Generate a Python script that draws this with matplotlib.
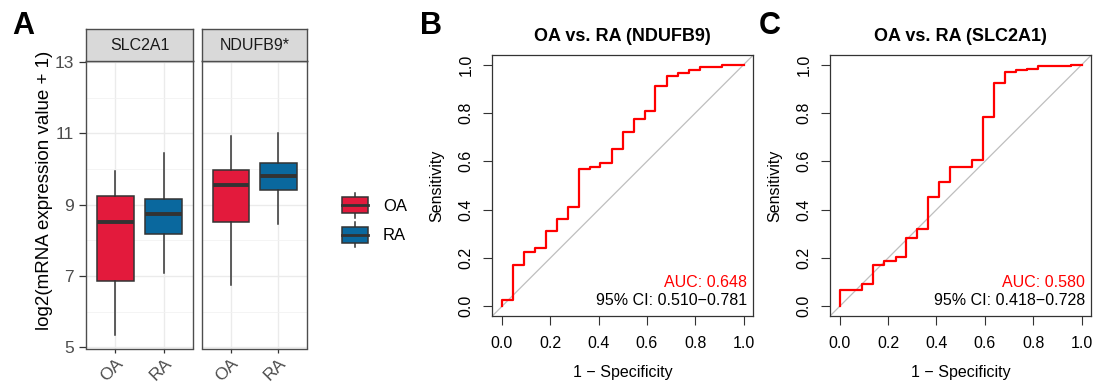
"""Boxplot facets (A) + two ROC curves (B, C)."""

import matplotlib

matplotlib.use("Agg")
import matplotlib.pyplot as plt
from matplotlib.legend_handler import HandlerBase
from matplotlib.lines import Line2D
from matplotlib.patches import Patch, Rectangle

plt.rcParams["font.family"] = ["Liberation Sans", "DejaVu Sans"]

W, H = 1095, 387

# ---- data -------------------------------------------------------------
genes = ["SLC2A1", "NDUFB9*"]
groups = ["OA", "RA"]
group_colors = ["#E31A3C", "#0A689E"]

# whisker low, Q1, median, Q3, whisker high
box_slc2a1 = [[5.34, 6.86, 8.51, 9.24, 9.94], [7.08, 8.17, 8.73, 9.15, 10.44]]
box_ndufb9 = [[6.74, 8.51, 9.54, 9.97, 10.92], [8.45, 9.40, 9.80, 10.16, 11.00]]
box_stats = [box_slc2a1, box_ndufb9]
y_ticks = [5, 7, 9, 11, 13]

# ROC: 1 - specificity at each riser, sensitivity after it
fpr_ndufb9 = [0.0, 0.0, 0.045, 0.091, 0.138, 0.182, 0.228, 0.273, 0.317, 0.366, 0.407,
              0.455, 0.5, 0.545, 0.59, 0.635, 0.682, 0.727, 0.772, 0.818, 0.912, 1.0]
tpr_ndufb9 = [0.0, 0.028, 0.172, 0.223, 0.243, 0.31, 0.362, 0.41, 0.568, 0.578, 0.594,
              0.651, 0.722, 0.777, 0.809, 0.913, 0.952, 0.965, 0.98, 0.99, 1.0, 1.0]
fpr_slc2a1 = [0.0, 0.0, 0.092, 0.138, 0.184, 0.231, 0.276, 0.32, 0.366, 0.411, 0.455,
              0.545, 0.593, 0.637, 0.683, 0.728, 0.772, 0.82, 0.955, 1.0]
tpr_slc2a1 = [0.0, 0.066, 0.092, 0.172, 0.189, 0.204, 0.282, 0.322, 0.454, 0.513, 0.578,
              0.605, 0.784, 0.925, 0.97, 0.98, 0.984, 0.993, 1.0, 1.0]
roc_titles = ["OA vs. RA (NDUFB9)", "OA vs. RA (SLC2A1)"]
auc_text = ["AUC: 0.648", "AUC: 0.580"]
ci_text = ["95% CI: 0.510\u22120.781", "95% CI: 0.418\u22120.728"]
roc_ticks = [0.0, 0.2, 0.4, 0.6, 0.8, 1.0]


def px_rect(left, top, right, bottom):
    return [left / W, 1 - bottom / H, (right - left) / W, (bottom - top) / H]


fig = plt.figure(figsize=(W / 100, H / 100), dpi=100)

# ---- panel A: faceted boxplots -----------------------------------------
facet_x = [(86, 193), (202, 307)]
for i, (l, r) in enumerate(facet_x):
    ax = fig.add_axes(px_rect(l, 61, r, 348.5))
    stats = []
    for g, s in zip(groups, box_stats[i]):
        stats.append(dict(label=g, whislo=s[0], q1=s[1], med=s[2], q3=s[3], whishi=s[4], fliers=[]))
    bp = ax.bxp(stats, positions=[1, 2], widths=0.76, patch_artist=True, showcaps=False,
                boxprops=dict(edgecolor="#333333", linewidth=1.1),
                whiskerprops=dict(color="#333333", linewidth=1.1),
                medianprops=dict(color="#333333", linewidth=2.8, solid_capstyle="butt"),
                zorder=3)
    for patch, c in zip(bp["boxes"], group_colors):
        patch.set_facecolor(c)
    ax.set_xlim(0.4, 2.6)
    ax.set_ylim(4.97, 13.03)
    ax.set_yticks(y_ticks)
    ax.set_yticks([6, 8, 10, 12], minor=True)
    ax.grid(which="major", color="#EBEBEB", linewidth=1.0)
    ax.grid(which="minor", axis="y", color="#F2F2F2", linewidth=0.6)
    ax.set_axisbelow(True)
    for sp in ax.spines.values():
        sp.set_color("#4D4D4D")
        sp.set_linewidth(1.0)
    ax.tick_params(axis="both", which="major", color="#333333", length=5, width=0.9,
                   labelcolor="#4D4D4D", labelsize=12.5)
    ax.tick_params(axis="y", which="minor", length=0)
    ax.set_xticks([1, 2])
    ax.set_xticklabels(groups, rotation=45, ha="right", va="top", rotation_mode="anchor")
    ax.tick_params(axis="x", length=3, pad=2)
    if i > 0:
        ax.tick_params(axis="y", which="major", length=0, labelleft=False)

    # strip on top of each facet
    sax = fig.add_axes(px_rect(l, 29, r, 61))
    sax.set_facecolor("#D9D9D9")
    sax.set_xticks([])
    sax.set_yticks([])
    for sp in sax.spines.values():
        sp.set_color("#4D4D4D")
        sp.set_linewidth(1.0)
    sax.text(0.5, 0.47, genes[i], ha="center", va="center", fontsize=11.5,
             color="#1A1A1A", transform=sax.transAxes)

fig.text(44.7 / W, 1 - 190 / H, "log2(mRNA expression value + 1)", rotation=90,
         ha="center", va="center", fontsize=13.5, color="#000000")


class BoxKey(HandlerBase):
    """Legend key that looks like a small ggplot box."""

    def create_artists(self, legend, orig_handle, xdescent, ydescent, width, height,
                       fontsize, trans):
        x0, y0 = -xdescent, -ydescent
        bh = height * 0.64
        by = y0 + (height - bh) / 2
        xc = x0 + width / 2
        whisk = Line2D([xc, xc], [y0, y0 + height], color="#333333", lw=1.1, transform=trans)
        box = Rectangle((x0, by), width, bh, facecolor=orig_handle.get_facecolor(),
                        edgecolor="#333333", lw=1.1, transform=trans)
        med = Line2D([x0, x0 + width], [y0 + height / 2] * 2, color="#333333", lw=2.0,
                     transform=trans)
        return [whisk, box, med]


handles = [Patch(facecolor=c) for c in group_colors]
fig.legend(handles, groups, handler_map={Patch: BoxKey()}, loc="center left",
           bbox_to_anchor=(342 / W, 1 - 220 / H), frameon=False, fontsize=12,
           handlelength=1.55, handleheight=1.95, handletextpad=0.9, labelspacing=0.25,
           borderpad=0, borderaxespad=0)

# ---- panels B, C: ROC curves -------------------------------------------
roc_boxes = [(492.3, 753.3), (830, 1091.4)]
roc_data = [(fpr_ndufb9, tpr_ndufb9), (fpr_slc2a1, tpr_slc2a1)]
for i, (l, r) in enumerate(roc_boxes):
    ax = fig.add_axes(px_rect(l, 55, r, 316))
    fpr, tpr = roc_data[i]
    ax.axline((0, 0), (1, 1), color="#BEBEBE", linewidth=0.9)
    ax.plot(fpr, tpr, drawstyle="steps-post", color="#FF0000", linewidth=1.6)
    ax.set_xlim(-0.04, 1.04)
    ax.set_ylim(-0.04, 1.04)
    ax.set_xticks(roc_ticks)
    ax.set_yticks(roc_ticks)
    ax.set_xticklabels([f"{t:.1f}" for t in roc_ticks])
    ax.set_yticklabels([f"{t:.1f}" for t in roc_ticks], rotation=90, va="center")
    ax.tick_params(length=6.5, width=0.8, labelsize=11.5, color="#333333")
    ax.tick_params(axis="x", pad=8)
    ax.tick_params(axis="y", pad=7)
    for sp in ax.spines.values():
        sp.set_color("#333333")
        sp.set_linewidth(0.9)
    ax.set_title(roc_titles[i], fontsize=13, fontweight="bold", pad=10)
    ax.set_xlabel("1 \u2212 Specificity", fontsize=11.5, va="center")
    ax.xaxis.set_label_coords(0.5, (316 - 373) / 261)
    ax.set_ylabel("Sensitivity", fontsize=11.5, va="center")
    ax.yaxis.set_label_coords((436.7 - 492.3) / 261, 0.5)
    ax.text(1.015, 0.10, auc_text[i], ha="right", va="center", fontsize=11.5, color="#FF0000")
    ax.text(1.015, 0.025, ci_text[i], ha="right", va="center", fontsize=11.5, color="#000000")

# panel letters
for letter, x in zip(["A", "B", "C"], [23, 431, 770]):
    fig.text(x / W, 1 - 26 / H, letter, ha="center", va="center", fontsize=22,
             fontweight="bold")

fig.savefig("out.png", dpi=100)
plt.close(fig)
